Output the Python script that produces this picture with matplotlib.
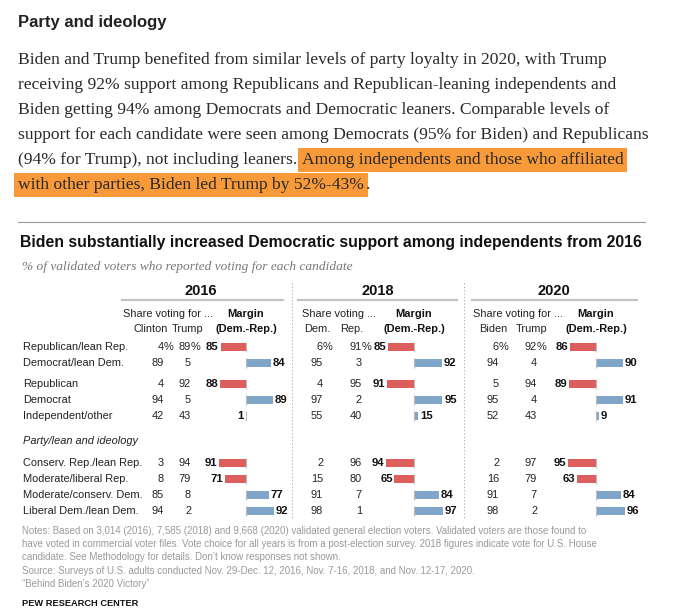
import matplotlib.pyplot as plt

# ---- data ----
years = ["2016", "2018", "2020"]
cand_labels = [["Clinton", "Trump"], ["Dem.", "Rep."], ["Biden", "Trump"]]
share_head = ["Share voting for ...", "Share voting ...", "Share voting for ..."]

groups = ["Republican/lean Rep.", "Democrat/lean Dem.", "Republican", "Democrat",
          "Independent/other", "Conserv. Rep./lean Rep.", "Moderate/liberal Rep.",
          "Moderate/conserv. Dem.", "Liberal Dem./lean Dem."]

dem16 = [4, 89, 4, 94, 42, 3, 8, 85, 94]
rep16 = [89, 5, 92, 5, 43, 94, 79, 8, 2]
mar16 = [-85, 84, -88, 89, -1, -91, -71, 77, 92]
dem18 = [6, 95, 4, 97, 55, 2, 15, 91, 98]
rep18 = [91, 3, 95, 2, 40, 96, 80, 7, 1]
mar18 = [-85, 92, -91, 95, 15, -94, -65, 84, 97]
dem20 = [6, 94, 5, 95, 52, 2, 16, 91, 98]
rep20 = [92, 4, 94, 4, 43, 97, 79, 7, 2]
mar20 = [-86, 90, -89, 91, 9, -95, -63, 84, 96]

dem = [dem16, dem18, dem20]
rep = [rep16, rep18, rep20]
mar = [mar16, mar18, mar20]

para = [
    "Biden and Trump benefited from similar levels of party loyalty in 2020, with Trump",
    "receiving 92% support among Republicans and Republican-leaning independents and",
    "Biden getting 94% among Democrats and Democratic leaners. Comparable levels of",
    "support for each candidate were seen among Democrats (95% for Biden) and Republicans",
]
para5 = "(94% for Trump), not including leaners. "
hl5 = "Among independents and those who affiliated"
hl6 = "with other parties, Biden led Trump by 52%-43%"

notes = [
    "Notes: Based on 3,014 (2016), 7,585 (2018) and 9,668 (2020) validated general election voters. Validated voters are those found to",
    "have voted in commercial voter files. Vote choice for all years is from a post-election survey. 2018 figures indicate vote for U.S. House",
    "candidate. See Methodology for details. Don\u2019t know responses not shown.",
    "Source: Surveys of U.S. adults conducted Nov. 29-Dec. 12, 2016, Nov. 7-16, 2018, and Nov. 12-17, 2020.",
    "\u201cBehind Biden\u2019s 2020 Victory\u201d",
]

# ---- layout (pixels) ----
W, H = 693, 616
row_y = [347, 363, 384, 400, 416, 463, 479, 495, 511]
col_dem_r = [164, 323, 499]
col_rep_r = [191, 362, 537]
col_zero = [246, 414, 596]
share_x = [123, 302, 473]
cand_cx = [[151, 188], [317, 352], [493, 532]]
year_cx = [201, 378, 554]
uline = [(122, 283), (298, 457), (472, 637)]
px_per_unit = 0.3

RED = "#dc5f5d"
BLUE = "#7fa6c8"
SANS = ["Liberation Sans", "DejaVu Sans"]
SERIF = ["Liberation Serif", "DejaVu Serif"]

fig = plt.figure(figsize=(W / 100, H / 100), dpi=100)
ax = fig.add_axes([0, 0, 1, 1])
ax.set_xlim(0, W)
ax.set_ylim(H, 0)
ax.axis("off")

# header block
ax.text(18, 22, "Party and ideology", family=SANS, fontsize=12, weight="bold",
        color="#222222", va="center")
for i, line in enumerate(para):
    ax.text(18, 60 + 25 * i, line, family=SERIF, fontsize=12.6, color="#2a2a2a", va="center")

fig.canvas.draw()
r = fig.canvas.get_renderer()
t5 = ax.text(18, 160, para5, family=SERIF, fontsize=12.6, color="#2a2a2a", va="center")
bb = t5.get_window_extent(r)
x5 = ax.transData.inverted().transform((bb.x1, bb.y0))[0]
hl_box = dict(boxstyle="square,pad=0.22", fc="#f89a3a", ec="none")
ax.text(x5, 160, hl5, family=SERIF, fontsize=12.6, color="#2a2a2a", va="center", bbox=hl_box)
t6 = ax.text(18, 185, hl6, family=SERIF, fontsize=12.6, color="#2a2a2a", va="center", bbox=hl_box)
bb6 = t6.get_window_extent(r)
x6 = ax.transData.inverted().transform((bb6.x1, bb6.y0))[0]
ax.text(x6 + 2, 185, ".", family=SERIF, fontsize=12.6, color="#2a2a2a", va="center")

ax.plot([18, 645], [222, 222], color="#999999", lw=0.8)

# chart title + subtitle
ax.text(20, 243, "Biden substantially increased Democratic support among independents from 2016",
        family=SANS, fontsize=11.4, weight="bold", color="#111111", va="center")
ax.text(22, 267, "% of validated voters who reported voting for each candidate",
        family=SERIF, fontsize=9.6, style="italic", color="#777777", va="center")

# row labels
for lab, y in zip(groups, row_y):
    ax.text(23, y, lab, family=SANS, fontsize=7.9, color="#222222", va="center")
ax.text(23, 441, "Party/lean and ideology", family=SANS, fontsize=7.9, style="italic",
        color="#222222", va="center")

# dotted column separators
for xs in (292, 464):
    ax.plot([xs, xs], [283, 518], color="#aaaaaa", lw=0.8, ls=(0, (1, 2)))

for k in range(3):
    ax.text(year_cx[k], 291, years[k], family=SANS, fontsize=10.5, weight="bold",
            color="#111111", ha="center", va="center")
    ax.plot(uline[k], [300, 300], color="#c4c4c4", lw=1.6)
    ax.text(share_x[k], 314, share_head[k], family=SANS, fontsize=7.9, color="#222222", va="center")
    for j in range(2):
        ax.text(cand_cx[k][j], 329, cand_labels[k][j], family=SANS, fontsize=7.9,
                color="#222222", ha="center", va="center")
    ax.text(col_zero[k], 314, "Margin", family=SANS, fontsize=7.9, weight="bold",
            color="#111111", ha="center", va="center")
    ax.text(col_zero[k], 329, "(Dem.-Rep.)", family=SANS, fontsize=7.9, weight="bold",
            color="#111111", ha="center", va="center")

    for i, y in enumerate(row_y):
        ax.text(col_dem_r[k], y, str(dem[k][i]), family=SANS, fontsize=7.9, color="#222222",
                ha="right", va="center")
        ax.text(col_rep_r[k], y, str(rep[k][i]), family=SANS, fontsize=7.9, color="#222222",
                ha="right", va="center")
        if i == 0:
            ax.text(col_dem_r[k], y, "%", family=SANS, fontsize=7.9, color="#222222", va="center")
            ax.text(col_rep_r[k], y, "%", family=SANS, fontsize=7.9, color="#222222", va="center")

    # margin bars in their own axes (x in margin points)
    half = 45
    bax = fig.add_axes([(col_zero[k] - half) / W, 0, 2 * half / W, 1])
    bax.set_xlim(-half / px_per_unit, half / px_per_unit)
    bax.set_ylim(H, 0)
    bax.axis("off")
    colors = [RED if m < 0 else BLUE for m in mar[k]]
    bax.barh(row_y, mar[k], height=8, color=colors)
    bax.vlines([0] * len(row_y), [y - 5 for y in row_y], [y + 5 for y in row_y],
               color="#bbbbbb", lw=0.8)
    for y, m in zip(row_y, mar[k]):
        bax.annotate(str(abs(m)), (m, y), xytext=(-1.2 if m < 0 else 1.2, 0),
                     textcoords="offset points", ha="right" if m < 0 else "left",
                     va="center", family=SANS, fontsize=8.2, weight="bold", color="#111111")

# notes
for i, line in enumerate(notes):
    ax.text(22, 531 + 13.2 * i, line, family=SANS, fontsize=7.05, color="#9a9a9a", va="center")
ax.text(22, 603, "PEW RESEARCH CENTER", family=SANS, fontsize=6.7, weight="bold",
        color="#111111", va="center")

fig.savefig("out.png", dpi=100)
